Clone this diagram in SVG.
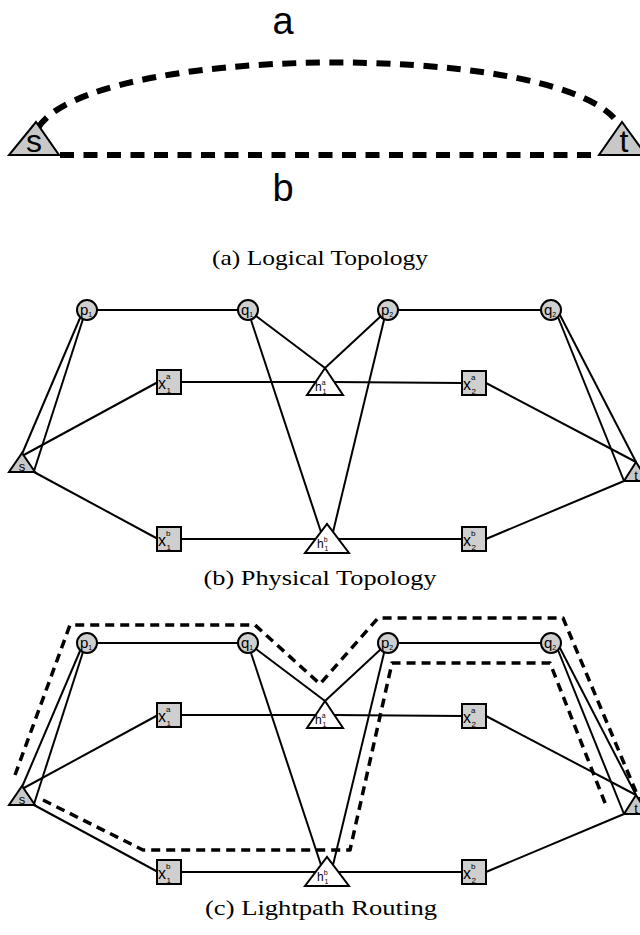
<svg xmlns="http://www.w3.org/2000/svg" width="640" height="935" viewBox="0 0 640 935">
<style>
.e{stroke:#000;stroke-width:2;fill:none}
.d1{stroke:#000;stroke-width:6;fill:none;stroke-dasharray:14 9.5}
.d2{stroke:#000;stroke-width:3.5;fill:none;stroke-dasharray:9 6;stroke-linejoin:round}
.nc{fill:#cfcfcf;stroke:#000;stroke-width:2}
.nt{fill:#fff;stroke:#000;stroke-width:2}
.ng{fill:#c8c8c8;stroke:#000;stroke-width:2}
.lb{font-family:"Liberation Sans",Arial,sans-serif;fill:#000}
.cap{font-family:"Liberation Serif","Times New Roman",serif;font-size:21px;fill:#000}
</style>

<!-- (a) Logical Topology -->
<g id="logical">
  <g id="conn_a">
    <path class="d1" d="M38,128 C88,45 542,40 614,118"/>
    <line class="d1" x1="60" y1="155" x2="600" y2="155"/>
  </g>
  <g id="a_s">
    <polygon class="ng" points="9,155 59,155 36,122"/>
    <text class="lb" x="34" y="152" font-size="32" text-anchor="middle">s</text>
  </g>
  <g id="a_t">
    <polygon class="ng" points="599,155 646,155 622,122"/>
    <text class="lb" x="624" y="152" font-size="32" text-anchor="middle">t</text>
  </g>
  <text class="lb" x="283" y="34" font-size="38" text-anchor="middle">a</text>
  <text class="lb" x="283" y="201" font-size="38" text-anchor="middle">b</text>
  <text class="cap" x="320" y="265" text-anchor="middle" textLength="216" lengthAdjust="spacingAndGlyphs">(a) Logical Topology</text>
</g>

<!-- (b) Physical Topology -->
<g id="physical">
  <g id="conn_b">
    <line class="e" x1="97" y1="310" x2="238" y2="310"/>
    <line class="e" x1="398" y1="310" x2="541" y2="310"/>
    <line class="e" x1="22" y1="454" x2="80" y2="318"/>
    <line class="e" x1="34" y1="471" x2="83" y2="319"/>
    <line class="e" x1="22" y1="456" x2="158" y2="382"/>
    <line class="e" x1="34" y1="472" x2="158" y2="539"/>
    <line class="e" x1="181" y1="382" x2="318" y2="382"/>
    <line class="e" x1="332" y1="382" x2="462" y2="383"/>
    <line class="e" x1="181" y1="539" x2="320" y2="539"/>
    <line class="e" x1="334" y1="539" x2="462" y2="539"/>
    <line class="e" x1="256" y1="316" x2="325" y2="368"/>
    <line class="e" x1="381" y1="316" x2="325" y2="368"/>
    <line class="e" x1="251" y1="320" x2="321" y2="532"/>
    <line class="e" x1="384" y1="320" x2="333" y2="532"/>
    <line class="e" x1="486" y1="383" x2="636" y2="462"/>
    <line class="e" x1="558" y1="317" x2="624" y2="481"/>
    <line class="e" x1="560" y1="315" x2="636" y2="462"/>
    <line class="e" x1="486" y1="539" x2="624" y2="481"/>
  </g>
  <g id="b_p1"><circle class="nc" cx="87" cy="310" r="10"/><text class="lb" x="80" y="315" font-size="15">p<tspan font-size="7" dy="2">1</tspan></text></g>
  <g id="b_q1"><circle class="nc" cx="248" cy="310" r="10"/><text class="lb" x="241" y="315" font-size="15">q<tspan font-size="7" dy="2">1</tspan></text></g>
  <g id="b_p2"><circle class="nc" cx="388" cy="310" r="10"/><text class="lb" x="381" y="315" font-size="15">p<tspan font-size="7" dy="2">2</tspan></text></g>
  <g id="b_q2"><circle class="nc" cx="551" cy="310" r="10"/><text class="lb" x="544" y="315" font-size="15">q<tspan font-size="7" dy="2">2</tspan></text></g>
  <g id="b_xa1"><rect class="nc" x="157" y="370" width="24" height="24"/><text class="lb" x="158" y="389" font-size="16">x<tspan font-size="8" dy="-10">a</tspan><tspan font-size="8" dx="-4" dy="14">1</tspan></text></g>
  <g id="b_xb1"><rect class="nc" x="157" y="527" width="24" height="24"/><text class="lb" x="158" y="546" font-size="16">x<tspan font-size="8" dy="-10">b</tspan><tspan font-size="8" dx="-4" dy="14">1</tspan></text></g>
  <g id="b_xa2"><rect class="nc" x="462" y="371" width="24" height="24"/><text class="lb" x="463" y="390" font-size="16">x<tspan font-size="8" dy="-10">a</tspan><tspan font-size="8" dx="-4" dy="14">2</tspan></text></g>
  <g id="b_xb2"><rect class="nc" x="462" y="527" width="24" height="24"/><text class="lb" x="463" y="546" font-size="16">x<tspan font-size="8" dy="-10">b</tspan><tspan font-size="8" dx="-4" dy="14">2</tspan></text></g>
  <g id="b_ha1"><polygon class="nt" points="307,395 343,395 325,368"/><text class="lb" x="315" y="391" font-size="12">h<tspan font-size="7" dy="-6">a</tspan><tspan font-size="7" dx="-3" dy="9">1</tspan></text></g>
  <g id="b_hb1"><polygon class="nt" points="305,553 349,553 327,524"/><text class="lb" x="317" y="548" font-size="12">h<tspan font-size="7" dy="-6">b</tspan><tspan font-size="7" dx="-3" dy="9">1</tspan></text></g>
  <g id="b_s"><polygon class="ng" points="9,472 35,472 22,453"/><text class="lb" x="22" y="471" font-size="13" text-anchor="middle">s</text></g>
  <g id="b_t"><polygon class="ng" points="624,481 648,481 636,462"/><text class="lb" x="636" y="480" font-size="13" text-anchor="middle">t</text></g>
  <text class="cap" x="320" y="585" text-anchor="middle" textLength="233" lengthAdjust="spacingAndGlyphs">(b) Physical Topology</text>
</g>

<!-- (c) Lightpath Routing -->
<g id="routing">
  <g id="conn_c" transform="translate(0,333)">
    <line class="e" x1="97" y1="310" x2="238" y2="310"/>
    <line class="e" x1="398" y1="310" x2="541" y2="310"/>
    <line class="e" x1="22" y1="454" x2="80" y2="318"/>
    <line class="e" x1="34" y1="471" x2="83" y2="319"/>
    <line class="e" x1="22" y1="456" x2="158" y2="382"/>
    <line class="e" x1="34" y1="472" x2="158" y2="539"/>
    <line class="e" x1="181" y1="382" x2="318" y2="382"/>
    <line class="e" x1="332" y1="382" x2="462" y2="383"/>
    <line class="e" x1="181" y1="539" x2="320" y2="539"/>
    <line class="e" x1="334" y1="539" x2="462" y2="539"/>
    <line class="e" x1="256" y1="316" x2="325" y2="368"/>
    <line class="e" x1="381" y1="316" x2="325" y2="368"/>
    <line class="e" x1="251" y1="320" x2="321" y2="532"/>
    <line class="e" x1="384" y1="320" x2="333" y2="532"/>
    <line class="e" x1="486" y1="383" x2="636" y2="462"/>
    <line class="e" x1="558" y1="317" x2="624" y2="481"/>
    <line class="e" x1="560" y1="315" x2="636" y2="462"/>
    <line class="e" x1="486" y1="539" x2="624" y2="481"/>
  </g>
  <g id="paths_c">
    <path class="d2" d="M15,775 L70,625 L255,625 L320,684 L378,618 L563,618 L642,806"/>
    <path class="d2" d="M43,800 L143,850 L350,850 L392,663 L550,663 L607,808"/>
  </g>
  <g transform="translate(0,333)">
    <g id="c_p1"><circle class="nc" cx="87" cy="310" r="10"/><text class="lb" x="80" y="315" font-size="15">p<tspan font-size="7" dy="2">1</tspan></text></g>
    <g id="c_q1"><circle class="nc" cx="248" cy="310" r="10"/><text class="lb" x="241" y="315" font-size="15">q<tspan font-size="7" dy="2">1</tspan></text></g>
    <g id="c_p2"><circle class="nc" cx="388" cy="310" r="10"/><text class="lb" x="381" y="315" font-size="15">p<tspan font-size="7" dy="2">2</tspan></text></g>
    <g id="c_q2"><circle class="nc" cx="551" cy="310" r="10"/><text class="lb" x="544" y="315" font-size="15">q<tspan font-size="7" dy="2">2</tspan></text></g>
    <g id="c_xa1"><rect class="nc" x="157" y="370" width="24" height="24"/><text class="lb" x="158" y="389" font-size="16">x<tspan font-size="8" dy="-10">a</tspan><tspan font-size="8" dx="-4" dy="14">1</tspan></text></g>
    <g id="c_xb1"><rect class="nc" x="157" y="527" width="24" height="24"/><text class="lb" x="158" y="546" font-size="16">x<tspan font-size="8" dy="-10">b</tspan><tspan font-size="8" dx="-4" dy="14">1</tspan></text></g>
    <g id="c_xa2"><rect class="nc" x="462" y="371" width="24" height="24"/><text class="lb" x="463" y="390" font-size="16">x<tspan font-size="8" dy="-10">a</tspan><tspan font-size="8" dx="-4" dy="14">2</tspan></text></g>
    <g id="c_xb2"><rect class="nc" x="462" y="527" width="24" height="24"/><text class="lb" x="463" y="546" font-size="16">x<tspan font-size="8" dy="-10">b</tspan><tspan font-size="8" dx="-4" dy="14">2</tspan></text></g>
    <g id="c_ha1"><polygon class="nt" points="307,395 343,395 325,368"/><text class="lb" x="315" y="391" font-size="12">h<tspan font-size="7" dy="-6">a</tspan><tspan font-size="7" dx="-3" dy="9">1</tspan></text></g>
    <g id="c_hb1"><polygon class="nt" points="305,553 349,553 327,524"/><text class="lb" x="317" y="548" font-size="12">h<tspan font-size="7" dy="-6">b</tspan><tspan font-size="7" dx="-3" dy="9">1</tspan></text></g>
    <g id="c_s"><polygon class="ng" points="9,472 35,472 22,453"/><text class="lb" x="22" y="471" font-size="13" text-anchor="middle">s</text></g>
    <g id="c_t"><polygon class="ng" points="624,481 648,481 636,462"/><text class="lb" x="636" y="480" font-size="13" text-anchor="middle">t</text></g>
  </g>
  <text class="cap" x="321" y="915" text-anchor="middle" textLength="232" lengthAdjust="spacingAndGlyphs">(c) Lightpath Routing</text>
</g>
</svg>
